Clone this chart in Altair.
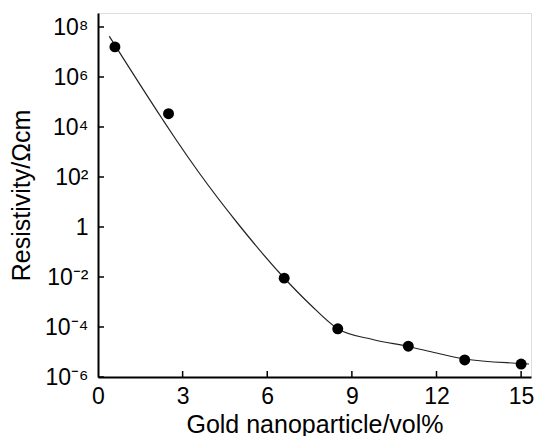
import altair as alt
import pandas as pd

# Measured data points (Gold nanoparticle vol% vs resistivity in Ohm cm)
point_x = [0.6, 2.5, 6.6, 8.5, 11.0, 13.0, 15.0]
point_y = [1.6e7, 3.4e4, 9.0e-3, 8.5e-5, 1.7e-5, 4.8e-6, 3.3e-6]

# Fitted curve (x, log10 resistivity)
curve_x = [0.4, 2.28, 2.75, 3.57, 4.97, 6.6, 7.53, 8.5, 9.74, 11.0, 12.0, 13.0, 15.0, 15.28]
curve_log = [7.63, 4.32, 3.52, 2.19, 0.12, -2.04, -3.11, -4.07, -4.5, -4.78, -5.04, -5.28, -5.46, -5.48]

x_ticks = [0, 3, 6, 9, 12, 15]
y_tick_exps = [-6, -4, -2, 0, 2, 4, 6, 8]
y_tick_labels = ["10⁻⁶", "10⁻⁴", "10⁻²", "1", "10²", "10⁴", "10⁶", "10⁸"]

X_DOMAIN = [0, 15.35]
Y_DOMAIN = [1e-6, 10 ** 8.56]
W, H = 433, 364
FONT = "Liberation Sans"

pts = pd.DataFrame({"x": point_x, "y": point_y})
curve = pd.DataFrame({"x": curve_x, "y": [10 ** v for v in curve_log]})
yt = pd.DataFrame({"y": [10.0 ** e for e in y_tick_exps]})
xt = pd.DataFrame({"x": [v for v in x_ticks if v > 0]})

label_expr = ""
for e, lab in zip(y_tick_exps, y_tick_labels):
    label_expr += f"round(log(datum.value)/LN10) == {e} ? '{lab}' : "
label_expr += "''"

xscale = alt.Scale(domain=X_DOMAIN, nice=False, zero=False)
yscale = alt.Scale(type="log", domain=Y_DOMAIN, nice=False)

xaxis = alt.Axis(
    values=x_ticks, ticks=False, grid=False, domainColor="black", domainWidth=2,
    labelFont=FONT, labelFontSize=23, labelColor="black", labelPadding=8,
    title="Gold nanoparticle/vol%", titleFont=FONT, titleFontSize=25,
    titleFontWeight="normal", titleColor="black", titlePadding=4, labelFlush=False,
)
yaxis = alt.Axis(
    values=[10.0 ** e for e in y_tick_exps], labelExpr=label_expr, ticks=False,
    grid=False, domainColor="black", domainWidth=2,
    labelFont=FONT, labelFontSize=23, labelColor="black", labelPadding=10,
    title="Resistivity/Ωcm", titleFont=FONT, titleFontSize=25,
    titleFontWeight="normal", titleColor="black", titlePadding=10, labelFlush=False,
)

line = alt.Chart(curve).mark_line(color="#222222", strokeWidth=1.2, interpolate="monotone", clip=True).encode(
    x=alt.X("x:Q", scale=xscale, axis=xaxis),
    y=alt.Y("y:Q", scale=yscale, axis=yaxis),
)
dots = alt.Chart(pts).mark_circle(color="black", opacity=1, size=120).encode(
    x=alt.X("x:Q", scale=xscale),
    y=alt.Y("y:Q", scale=yscale),
)
yticks = alt.Chart(yt).mark_rule(color="black", strokeWidth=1.5).encode(
    y=alt.Y("y:Q", scale=yscale),
    x=alt.value(0), x2=alt.value(6),
)
xticks = alt.Chart(xt).mark_rule(color="black", strokeWidth=1.5).encode(
    x=alt.X("x:Q", scale=xscale),
    y=alt.value(H), y2=alt.value(H - 6),
)

chart = alt.layer(line, yticks, xticks, dots).properties(
    width=W, height=H,
    autosize=alt.AutoSizeParams(type="none"),
    padding={"left": 90, "top": 5, "right": 3, "bottom": 59},
).configure_view(stroke=None).configure(background="white")

chart.save("out.html", embed_options={"renderer": "svg", "actions": False})
